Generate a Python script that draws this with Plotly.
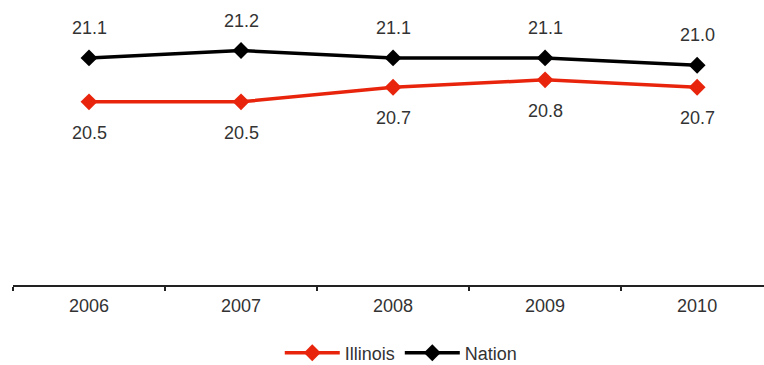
import plotly.graph_objects as go

years = ["2006", "2007", "2008", "2009", "2010"]
illinois = [20.5, 20.5, 20.7, 20.8, 20.7]
nation = [21.1, 21.2, 21.1, 21.1, 21.0]

RED = "#e8250c"
BLACK = "#000000"
TEXT = "#333333"
FONT = "Liberation Sans, Arial, sans-serif"
FS = 18

fig = go.Figure()
fig.add_trace(go.Scatter(
    x=years, y=illinois, name="Illinois", mode="lines+markers",
    line=dict(color=RED, width=3.5),
    marker=dict(symbol="diamond", size=13, color=RED),
))
fig.add_trace(go.Scatter(
    x=years, y=nation, name="Nation", mode="lines+markers",
    line=dict(color=BLACK, width=3.5),
    marker=dict(symbol="diamond", size=13, color=BLACK),
))

# value labels: Nation above its points, Illinois below (x given as category index)
for i, v in enumerate(nation):
    fig.add_annotation(x=i, y=v, xref="x", yref="y", text=f"{v:.1f}",
                       showarrow=False, yshift=30,
                       font=dict(size=FS, color=TEXT, family=FONT))
for i, v in enumerate(illinois):
    fig.add_annotation(x=i, y=v, xref="x", yref="y", text=f"{v:.1f}",
                       showarrow=False, yshift=-31,
                       font=dict(size=FS, color=TEXT, family=FONT))

fig.update_layout(
    width=764, height=365,
    margin=dict(l=13, r=0, t=0, b=80),
    paper_bgcolor="white", plot_bgcolor="white",
    font=dict(family=FONT, size=FS, color=TEXT),
    showlegend=True,
    legend=dict(orientation="h", x=0.517, xanchor="center",
                yref="container", y=(365 - 353) / 365, yanchor="middle",
                font=dict(size=FS, color=TEXT), itemwidth=55,
                traceorder="normal"),
    xaxis=dict(type="category", range=[-0.5, 4.44], showgrid=False,
               showline=True, linecolor="#222222", linewidth=2,
               ticks="outside", tickson="boundaries", ticklen=4,
               tickcolor="#222222", tickwidth=2, ticklabelstandoff=3,
               tickfont=dict(size=FS, color=TEXT), zeroline=False),
    yaxis=dict(range=[18, 21.89], visible=False, showgrid=False, zeroline=False),
)

fig.write_html("out.html")
